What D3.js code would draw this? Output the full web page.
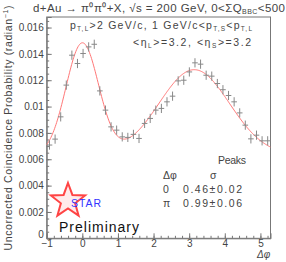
<!DOCTYPE html>
<html>
<head>
<meta charset="UTF-8">
<title>dAu pi0 pi0 correlation</title>
<script src="https://cdn.jsdelivr.net/npm/d3@7/dist/d3.min.js"></script>
<style>
  body { margin: 0; background: #fff; }
  svg { display: block; font-family: "Liberation Sans", Arial, sans-serif; }
  text { fill: #444; }
</style>
</head>
<body>
<svg width="286" height="262"></svg>
<script>
// bin centres (delta phi, radian), 40 bins over 2pi starting at -1
var dphi = [-0.921, -0.764, -0.607, -0.450, -0.293, -0.136, 0.021, 0.178, 0.335, 0.492,
            0.650, 0.807, 0.964, 1.121, 1.278, 1.435, 1.592, 1.749, 1.906, 2.063,
            2.220, 2.377, 2.534, 2.691, 2.848, 3.005, 3.163, 3.320, 3.477, 3.634,
            3.791, 3.948, 4.105, 4.262, 4.419, 4.576, 4.733, 4.890, 5.047, 5.204];
// coincidence probability
var prob = [0.00708, 0.00753, 0.00922, 0.01163, 0.01390, 0.01327, 0.01403, 0.01453, 0.01473, 0.01119,
            0.00973, 0.00846, 0.00821, 0.00770, 0.00766, 0.00789, 0.00758, 0.00872, 0.00910, 0.00973,
            0.00986, 0.01036, 0.01079, 0.01195, 0.01200, 0.01263, 0.01332, 0.01322, 0.01238, 0.01231,
            0.01175, 0.01128, 0.01084, 0.01036, 0.00952, 0.00859, 0.00755, 0.00783, 0.00740, 0.00740];
var probErr = [0.00035, 0.00035, 0.00035, 0.00035, 0.00035, 0.00035, 0.00035, 0.00035, 0.00035, 0.00035,
               0.00035, 0.00035, 0.00035, 0.00035, 0.00035, 0.00035, 0.00035, 0.00035, 0.00035, 0.00035,
               0.00035, 0.00035, 0.00035, 0.00035, 0.00035, 0.00035, 0.00035, 0.00035, 0.00035, 0.00035,
               0.00035, 0.00035, 0.00035, 0.00035, 0.00035, 0.00035, 0.00035, 0.00035, 0.00035, 0.00035];
var binHalf = Math.PI / 40;

// gaussian fit: constant + near side + away side
var fitBase = 0.0063;
var fitMeans = [0, Math.PI];
var fitSigmas = [0.46, 0.99];
var fitAmps = [0.0085, 0.0065];

var peakNames = ["0", "\u03c0"];
var peakWidths = ["0.46\u00b10.02", "0.99\u00b10.06"];

var yTicks = [0, 0.002, 0.004, 0.006, 0.008, 0.01, 0.012, 0.014, 0.016];
var xTicks = [-1, 0, 1, 2, 3, 4, 5];

var svg = d3.select("svg");
var x = d3.scaleLinear().domain([-1, 2 * Math.PI - 1]).range([46.7, 270.5]);
var y = d3.scaleLinear().domain([0, 0.0168]).range([238.3, 17]);

// frame
svg.append("rect")
  .attr("x", x.range()[0]).attr("y", y.range()[1])
  .attr("width", x.range()[1] - x.range()[0])
  .attr("height", y.range()[0] - y.range()[1])
  .attr("fill", "none").attr("stroke", "#777").attr("stroke-width", 1);

// y axis: major + minor ticks pointing inside
var yMinor = d3.range(0, 0.01675, 0.0005);
svg.append("g").attr("transform", "translate(" + x.range()[0] + ",0)")
  .call(d3.axisLeft(y).tickValues(yMinor).tickSize(-2.5).tickFormat(""))
  .call(g => g.select(".domain").remove());
var gy = svg.append("g").attr("transform", "translate(" + x.range()[0] + ",0)")
  .call(d3.axisLeft(y).tickValues(yTicks).tickSize(-5).tickPadding(3)
    .tickFormat(d => d === 0 ? "0" : String(+d.toFixed(3))));
gy.select(".domain").attr("stroke", "#777");
gy.selectAll("text").attr("font-size", 10).attr("fill", "#555").attr("font-family", "Liberation Sans");
gy.selectAll(".tick").filter(d => d === 0).select("text").attr("dy", "-0.05em");

// x axis
var xMinor = d3.range(-1, 5.3, 0.2);
svg.append("g").attr("transform", "translate(0," + y.range()[0] + ")")
  .call(d3.axisBottom(x).tickValues(xMinor).tickSize(-2.5).tickFormat(""))
  .call(g => g.select(".domain").remove());
var gx = svg.append("g").attr("transform", "translate(0," + y.range()[0] + ")")
  .call(d3.axisBottom(x).tickValues(xTicks).tickSize(-5).tickPadding(1.5).tickFormat(d3.format("d")));
gx.select(".domain").attr("stroke", "#777");
gx.selectAll("text").attr("font-size", 10).attr("fill", "#555").attr("font-family", "Liberation Sans");
svg.selectAll(".tick line").attr("stroke", "#777");

// fit curve
function fit(v) {
  var s = fitBase;
  for (var k = 0; k < fitMeans.length; k++) {
    var d = (v - fitMeans[k]) / fitSigmas[k];
    s += fitAmps[k] * Math.exp(-0.5 * d * d);
  }
  return s;
}
var curveX = d3.range(x.domain()[0], x.domain()[1] + 0.001, 0.02);
svg.append("path")
  .datum(curveX)
  .attr("fill", "none").attr("stroke", "#f77").attr("stroke-width", 1)
  .attr("d", d3.line().x(d => x(d)).y(d => y(fit(d))));

// data points: crosses
var pts = svg.append("g").selectAll("g").data(dphi).enter().append("g");
pts.append("line")
  .attr("x1", d => x(d - binHalf)).attr("x2", (d) => x(d + binHalf))
  .attr("y1", (d, i) => y(prob[i])).attr("y2", (d, i) => y(prob[i]))
  .attr("stroke", "#888");
pts.append("line")
  .attr("x1", d => x(d)).attr("x2", d => x(d))
  .attr("y1", (d, i) => y(prob[i] - probErr[i])).attr("y2", (d, i) => y(prob[i] + probErr[i]))
  .attr("stroke", "#888");

// title
var t = svg.append("text").attr("x", 33).attr("y", 12).attr("font-size", 11.5)
  .attr("textLength", 252).attr("lengthAdjust", "spacing");
t.append("tspan").text("d+Au \u2192 \u03c0\u2070\u03c0\u2070+X, \u221as = 200 GeV, 0<\u03a3Q");
t.append("tspan").attr("font-size", 7).attr("dy", 2).text("BBC");
t.append("tspan").attr("dy", -2).text("<500");

// y label
svg.append("text")
  .attr("transform", "translate(12,128) rotate(-90)")
  .attr("text-anchor", "middle").attr("font-size", 10.5)
  .attr("textLength", 245).attr("lengthAdjust", "spacing")
  .call(s => {
    s.append("tspan").text("Uncorrected Coincidence Probability (radian");
    s.append("tspan").attr("font-size", 7).attr("dy", -4).text("\u22121");
    s.append("tspan").attr("dy", 4).text(")");
  });

// x label
svg.append("text").attr("x", 257).attr("y", 258).attr("font-size", 10)
  .attr("font-style", "italic").text("\u0394\u03c6");

// cuts
var c1 = svg.append("text").attr("x", 70).attr("y", 29).attr("font-size", 10.5)
  .attr("textLength", 182).attr("lengthAdjust", "spacing");
c1.append("tspan").text("p");
c1.append("tspan").attr("font-size", 6.5).attr("dy", 2).text("T,L");
c1.append("tspan").attr("dy", -2).text(">2 GeV/c,  1 GeV/c<p");
c1.append("tspan").attr("font-size", 6.5).attr("dy", 2).text("T,S");
c1.append("tspan").attr("dy", -2).text("<p");
c1.append("tspan").attr("font-size", 6.5).attr("dy", 2).text("T,L");

var c2 = svg.append("text").attr("x", 133).attr("y", 46).attr("font-size", 10.5)
  .attr("textLength", 118).attr("lengthAdjust", "spacing");
c2.append("tspan").text("<\u03b7");
c2.append("tspan").attr("font-size", 6.5).attr("dy", 2).text("L");
c2.append("tspan").attr("dy", -2).text(">=3.2, <\u03b7");
c2.append("tspan").attr("font-size", 6.5).attr("dy", 2).text("S");
c2.append("tspan").attr("dy", -2).text(">=3.2");

// peaks table
svg.append("text").attr("x", 218).attr("y", 164).attr("font-size", 10.5)
  .attr("textLength", 28).attr("lengthAdjust", "spacing").text("Peaks");
svg.append("text").attr("x", 163).attr("y", 179).attr("font-size", 10.5).text("\u0394\u03c6");
svg.append("text").attr("x", 210).attr("y", 179).attr("font-size", 10.5).text("\u03c3");
peakNames.forEach(function (n, i) {
  svg.append("text").attr("x", 163).attr("y", 193 + i * 14).attr("font-size", 10.5).text(n);
  svg.append("text").attr("x", 183).attr("y", 193 + i * 14).attr("font-size", 10.5)
    .attr("textLength", 59).attr("lengthAdjust", "spacing").text(peakWidths[i]);
});

// STAR logo
var star = d3.range(10).map(function (k) {
  var r = k % 2 === 0 ? 18 : 7.5;
  var a = -Math.PI / 2 + k * Math.PI / 5;
  return [68 + r * Math.cos(a), 201 + r * Math.sin(a)];
});
svg.append("path")
  .attr("d", "M" + star.join("L") + "Z")
  .attr("fill", "#fcc").attr("fill-opacity", 0.4)
  .attr("stroke", "#f44").attr("stroke-width", 2).attr("stroke-linejoin", "miter");
svg.append("text").attr("x", 71).attr("y", 207).attr("font-size", 10.5)
  .attr("textLength", 30).attr("lengthAdjust", "spacing")
  .style("fill", "#33f").text("STAR");
svg.append("text").attr("x", 59).attr("y", 232).attr("font-size", 14)
  .attr("textLength", 80).attr("lengthAdjust", "spacing")
  .style("fill", "#111").text("Preliminary");
</script>
</body>
</html>
